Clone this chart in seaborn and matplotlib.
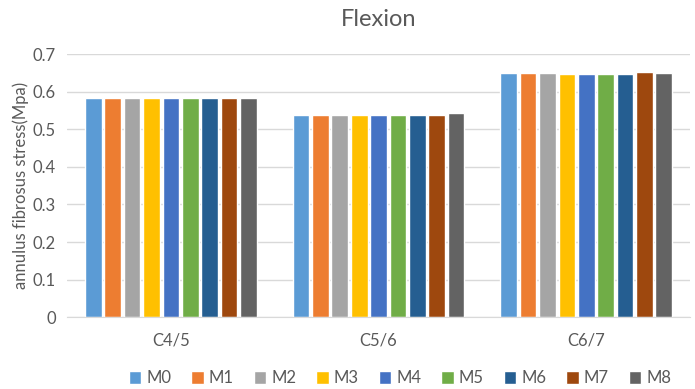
import pandas as pd
import seaborn as sns
import matplotlib.pyplot as plt

segments = ["C4/5", "C5/6", "C6/7"]
models = ["M0", "M1", "M2", "M3", "M4", "M5", "M6", "M7", "M8"]

# stress values (MPa), one list per segment
c45 = [0.583, 0.583, 0.583, 0.583, 0.583, 0.584, 0.584, 0.583, 0.583]
c56 = [0.537, 0.538, 0.538, 0.538, 0.538, 0.538, 0.539, 0.539, 0.543]
c67 = [0.650, 0.650, 0.650, 0.647, 0.647, 0.647, 0.647, 0.651, 0.650]

colors = ["#5B9BD5", "#ED7D31", "#A5A5A5", "#FFC000", "#4472C4",
          "#70AD47", "#255E91", "#9E480E", "#636363"]

rows = []
for seg, vals in zip(segments, [c45, c56, c67]):
    for m, v in zip(models, vals):
        rows.append({"segment": seg, "model": m, "stress": v})
df = pd.DataFrame(rows)

sns.set_style("white")
plt.rcParams['font.family'] = ['Lato', 'DejaVu Sans']
text_col = "#595959"

fig = plt.figure(figsize=(6.95, 3.89), dpi=100)
ax = fig.add_axes([0.0964, 0.1843, 0.8966, 0.6767])

sns.barplot(data=df, x="segment", y="stress", hue="model", palette=colors,
            width=0.84, gap=0.14, ax=ax, saturation=1)

ax.set_ylim(0, 0.7)
ax.set_xlim(-0.5, 2.5)
ax.set_yticks([0, 0.1, 0.2, 0.3, 0.4, 0.5, 0.6, 0.7])
ax.set_yticklabels(["0", "0.1", "0.2", "0.3", "0.4", "0.5", "0.6", "0.7"])
ax.yaxis.grid(True, color="#D9D9D9", linewidth=1)
ax.set_axisbelow(True)
for s in ["left", "right", "top"]:
    ax.spines[s].set_visible(False)
ax.spines["bottom"].set_color("#D9D9D9")
ax.tick_params(axis="both", length=0, colors=text_col, labelsize=12, pad=8)
ax.tick_params(axis="x", pad=11)

ax.set_xlabel("")
ax.set_ylabel("annulus fibrosus stress(Mpa)", color=text_col, fontsize=12, labelpad=3)
ax.set_title("Flexion", color=text_col, fontsize=17, pad=20)

handles, labels = ax.get_legend_handles_labels()
ax.legend(handles, labels, loc="center", bbox_to_anchor=(0.534, -0.232), ncol=9,
          frameon=False, fontsize=12, labelcolor=text_col, handlelength=0.75,
          handleheight=0.75, handletextpad=0.3, columnspacing=1.2)

plt.savefig("out.png", dpi=100)
plt.close()
